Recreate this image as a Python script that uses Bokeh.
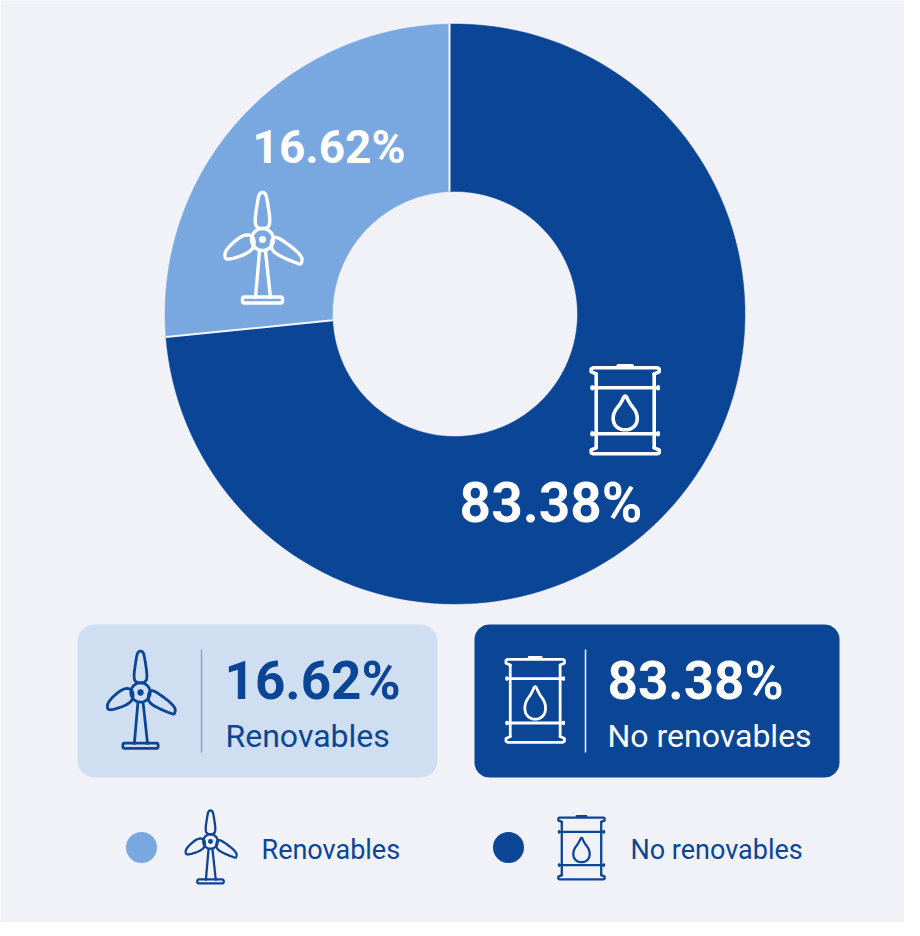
import numpy as np
from bokeh.plotting import figure
from bokeh.models import Range1d
from bokeh.core.properties import value
from bokeh.embed import file_html
from bokeh.resources import INLINE

# ---- data ----
categories = ["Renovables", "No renovables"]
label_values = ["16.62%", "83.38%"]
# share of the ring that each slice really occupies in the picture
drawn_shares = [26.6, 73.4]
BG = "#F1F2F8"
LIGHT = "#79A8E0"
DARK = "#0B4596"
CARD_LIGHT = "#CFDFF1"
FONT = value("Roboto")

p = figure(width=904, height=922, output_backend="svg", toolbar_location=None,
           x_range=Range1d(8, 912), y_range=Range1d(930, 8),
           x_axis_type=None, y_axis_type=None, min_border=0, outline_line_color=None,
           background_fill_color=BG, border_fill_color=BG)
p.grid.visible = False

# ---- ring ----
C = np.array([462.5, 321.5]); R_OUT, R_IN = 290.0, 122.5
APEX = np.array([457.0, 316.0])

def hit(theta, r):
    d = np.array([np.sin(theta), -np.cos(theta)])
    f = APEX - C
    b = f @ d
    s = -b + np.sqrt(b * b - (f @ f - r * r))
    return APEX + s * d

def arc(a, b, r, n=120):
    a0 = np.arctan2(a[1] - C[1], a[0] - C[0]); b0 = np.arctan2(b[1] - C[1], b[0] - C[0])
    while b0 <= a0:
        b0 += 2 * np.pi
    t = np.linspace(a0, b0, n)
    return C[0] + r * np.cos(t), C[1] + r * np.sin(t)

def ring_slice(t0, t1):
    xo, yo = arc(hit(t0, R_OUT), hit(t1, R_OUT), R_OUT)
    xi, yi = arc(hit(t0, R_IN), hit(t1, R_IN), R_IN)
    return list(xo) + list(xi[::-1]), list(yo) + list(yi[::-1])

split = 2 * np.pi * drawn_shares[1] / sum(drawn_shares)
x, y = ring_slice(0, split)
p.patch(x, y, fill_color=DARK, line_color=DARK, line_width=0.5)
x, y = ring_slice(split, 2 * np.pi)
p.patch(x, y, fill_color=LIGHT, line_color=LIGHT, line_width=0.5)
for t in (0, split):
    a, b = hit(t, R_IN), hit(t, R_OUT)
    p.line([a[0], b[0]], [a[1], b[1]], line_color="#F4F6FB", line_width=2)

# ---- helpers ----
def chaikin(pts, closed=True, n=3):
    pts = np.array(pts, float)
    for _ in range(n):
        q = np.roll(pts, -1, axis=0) if closed else pts[1:]
        a = pts if closed else pts[:-1]
        new = np.empty((2 * len(a), 2))
        new[0::2] = 0.75 * a + 0.25 * q
        new[1::2] = 0.25 * a + 0.75 * q
        pts = new
    if closed:
        pts = np.vstack([pts, pts[0]])
    return pts

def rrect(x0, y0, x1, y1, r):
    xs, ys = [], []
    for cx, cy, a in [(x1 - r, y0 + r, -90), (x1 - r, y1 - r, 0), (x0 + r, y1 - r, 90), (x0 + r, y0 + r, 180)]:
        t = np.radians(np.linspace(a, a + 90, 12))
        xs += list(cx + r * np.cos(t)); ys += list(cy + r * np.sin(t))
    return xs, ys

# local icon shapes, in px at the large size
BLADE_UP = [(-5, -11), (-8, -17), (-5, -38), (-3, -47), (3, -47), (5, -38), (8, -17), (5, -11)]
BLADE_LEFT = [(-9, -4), (-20, -5), (-37, 10), (-38, 19), (-33, 20), (-17, 15), (-8, 8)]
BLADE_RIGHT = [(10, -3), (18, -1), (40, 16), (39, 25), (35, 24), (18, 17), (8, 10)]
TOWER = [[(-3, 12), (-7, 58)], [(3, 12), (8, 58)]]
BASE = (-20, 57.5, 20, 63.5)

def turbine(cx, cy, s, color, lw):
    def L(pts, closed=False):
        a = np.array(pts, float)
        p.line(cx + s * a[:, 0], cy + s * a[:, 1], line_color=color, line_width=lw,
               line_join="round", line_cap="round")
    for b in (BLADE_UP, BLADE_LEFT, BLADE_RIGHT):
        L(chaikin(b))
    for t in TOWER:
        L(t)
    bx, by = rrect(cx + s * BASE[0], cy + s * BASE[1], cx + s * BASE[2], cy + s * BASE[3], 1.5)
    p.patch(bx + bx[:1], by + by[:1], fill_color=None, line_color=color, line_width=lw)
    t = np.linspace(0, 2 * np.pi, 40)
    L(np.c_[11 * np.cos(t), 11 * np.sin(t)])
    p.scatter([cx], [cy], size=6 * s + 1, color=color, line_color=None)

DROP = [(0, -17), (-4, -8), (-12, 2), (-12, 13), (-5, 19), (5, 19), (12, 13), (12, 2), (4, -8)]

def barrel(cx, cy, sx, sy, color, lw):
    def L(pts):
        a = np.array(pts, float)
        p.line(cx + sx * a[:, 0], cy + sy * a[:, 1], line_color=color, line_width=lw,
               line_join="round", line_cap="round")
    L([(-29, -37), (-34, -39), (-34, -42), (-32, -43), (32, -43), (34, -42), (34, -39), (29, -37)])
    L([(-29, 37), (-34, 39), (-34, 42), (-32, 43), (32, 43), (34, 42), (34, 39), (29, 37)])
    L([(-29, -37), (-29, 37)])
    L([(29, -37), (29, 37)])
    L([(-7, -45), (7, -45)])
    for yy in (-23, 23):
        L([(-33, yy), (33, yy)])
        for xx in (-33, 33):
            L([(xx, yy - 1), (xx, yy + 1)])
    L(chaikin(DROP))

def txt(x, y, s, size, color, style="normal", align="left"):
    p.text([x], [y], text=[s], text_font=FONT, text_font_size=f"{size}px", text_color=color,
           text_font_style=style, text_align=align, text_baseline="alphabetic")

# ---- donut content ----
txt(336.5, 154, label_values[0], 46, "#FFFFFF", "bold", "center")
txt(558.5, 510, label_values[1], 55, "#FFFFFF", "bold", "center")
turbine(270, 247, 1.0, "#FFFFFF", 3.4)
barrel(632.7, 418.3, 1.0, 1.0, "#FFFFFF", 3.6)

# ---- cards ----
x, y = rrect(85, 632, 445, 785, 17)
p.patch(x, y, fill_color=CARD_LIGHT, line_color=None)
x, y = rrect(482, 632, 847, 785, 15)
p.patch(x, y, fill_color=DARK, line_color=None)
p.line([209, 209], [657, 760], line_color="#7FA9DA", line_width=1.5)
p.line([593, 593], [657, 760], line_color="#F1F4FA", line_width=1.5)
turbine(148, 700, 0.88, DARK, 2.8)
barrel(542.7, 708.3, 0.86, 0.965, "#FFFFFF", 2.8)
txt(232, 688, label_values[0], 53, DARK, "bold")
txt(615, 688, label_values[1], 53, "#FFFFFF", "bold")
txt(233, 743, categories[0], 32, DARK, "normal")
txt(615, 743, categories[1], 32, "#FFFFFF", "normal")

# ---- legend ----
p.scatter([149], [855], size=31, color=LIGHT, line_color=None)
p.scatter([516], [855], size=31, color=DARK, line_color=None)
turbine(218, 849, 0.66, DARK, 2.3)
barrel(589, 856, 0.68, 0.72, DARK, 2.3)
txt(269, 857, categories[0], 27, DARK, "normal")
txt(638, 857, categories[1], 27, DARK, "normal")

open("out.html", "w").write(file_html(p, INLINE))
